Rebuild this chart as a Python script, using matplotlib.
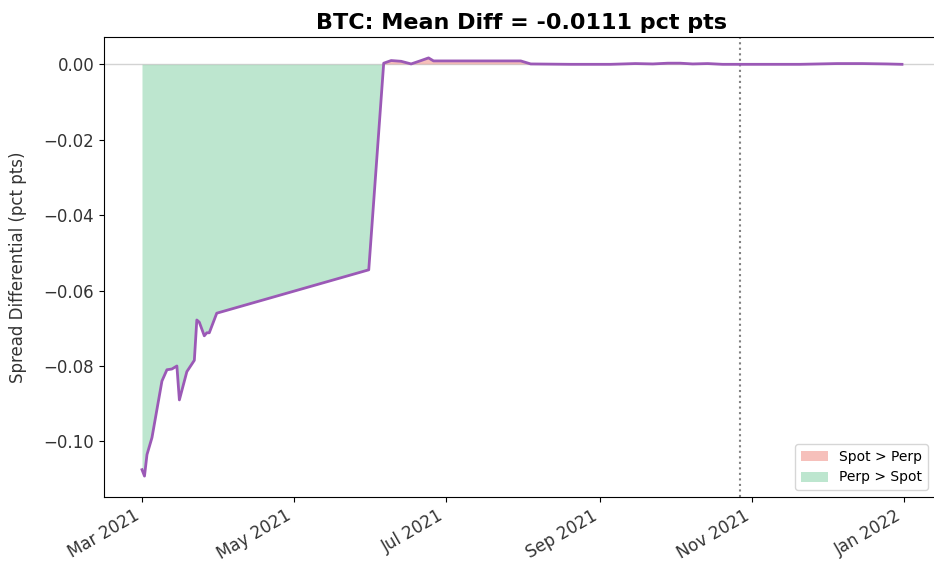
import numpy as np
import pandas as pd
import matplotlib
matplotlib.use("Agg")
import matplotlib.pyplot as plt
import matplotlib.dates as mdates
import matplotlib.patches as patches

# spread differential (spot - perp), pct pts
dates = [
	"2021-03-01", "2021-03-02", "2021-03-03", "2021-03-05", "2021-03-09", "2021-03-11",
	"2021-03-13", "2021-03-15", "2021-03-16", "2021-03-19", "2021-03-22", "2021-03-23",
	"2021-03-24", "2021-03-26", "2021-03-27", "2021-03-28", "2021-03-31", "2021-05-31",
	"2021-06-06", "2021-06-09", "2021-06-13", "2021-06-17", "2021-06-21", "2021-06-24",
	"2021-06-26", "2021-07-10", "2021-07-25", "2021-07-31", "2021-08-04", "2021-08-20",
	"2021-09-05", "2021-09-15", "2021-09-22", "2021-09-28", "2021-10-03", "2021-10-08",
	"2021-10-14", "2021-10-20", "2021-11-01", "2021-11-20", "2021-12-05", "2021-12-15",
	"2021-12-25", "2021-12-31",
]
spread = [
	-0.1075, -0.1092, -0.1035, -0.0990, -0.0840, -0.0810,
	-0.0808, -0.0800, -0.0890, -0.0815, -0.0785, -0.0678,
	-0.0684, -0.0720, -0.0712, -0.0712, -0.0660, -0.0545,
	0.0003, 0.0010, 0.0008, 0.0001, 0.0010, 0.0017,
	0.0009, 0.0009, 0.0009, 0.0009, 0.0001, 0.0000,
	0.0000, 0.0002, 0.0001, 0.0003, 0.0003, 0.0001,
	0.0002, 0.0000, 0.0000, 0.0000, 0.0002, 0.0002,
	0.0001, 0.0000,
]
event_date = "2021-10-27"
mean_diff = -0.0111

x = pd.to_datetime(dates)
y = np.array(spread)

fig = plt.figure(figsize=(9.34, 5.73), dpi=100)
ax = fig.add_axes([104/934, 1-497/573, 836/934, 460/573])
ax.spines['right'].set_visible(False)

ax.axhline(0, color='lightgrey', linewidth=1, zorder=1)
ax.fill_between(x, y, 0, where=y > 0, interpolate=True, color='#e74c3c', alpha=0.35, linewidth=0)
ax.fill_between(x, y, 0, where=y < 0, interpolate=True, color='#27ae60', alpha=0.3, linewidth=0)
ax.plot(x, y, color='#9b59b6', linewidth=2, zorder=3)
ax.axvline(pd.Timestamp(event_date), color='grey', linestyle=':', linewidth=1.5)

ax.set_title("BTC: Mean Diff = %.4f pct pts" % mean_diff, fontsize=16, fontweight='bold')
ax.set_ylabel("Spread Differential (pct pts)", fontsize=12, color='#333333', labelpad=12)
ax.tick_params(labelsize=12, labelcolor='#333333')

ax.xaxis.set_major_locator(mdates.MonthLocator(bymonth=[1, 3, 5, 7, 9, 11]))
ax.xaxis.set_major_formatter(mdates.DateFormatter('%b %Y'))
for lbl in ax.get_xticklabels():
	lbl.set_rotation(30)
	lbl.set_ha('right')

handles = [patches.Patch(facecolor='#e74c3c', edgecolor='none', alpha=0.35, label='Spot > Perp'),
	patches.Patch(facecolor='#27ae60', edgecolor='none', alpha=0.3, label='Perp > Spot')]
ax.legend(handles=handles, loc='lower right', fontsize=10, bbox_to_anchor=(0.994, 0.0))

fig.savefig("out.png", dpi=100)
plt.close()
